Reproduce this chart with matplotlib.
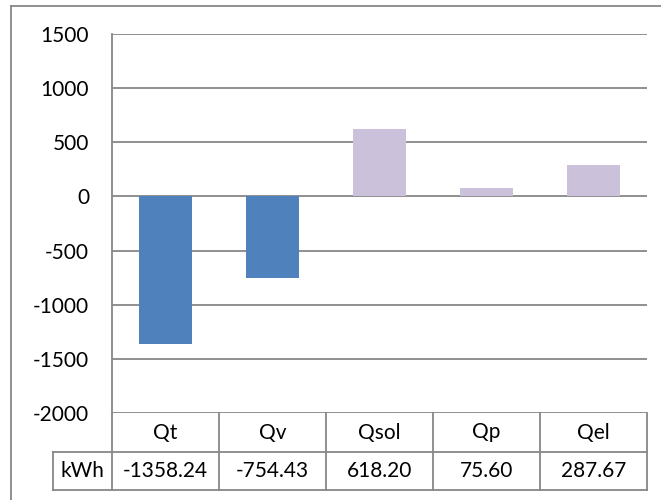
import matplotlib
matplotlib.use("Agg")
import matplotlib.pyplot as plt
from matplotlib.lines import Line2D
import matplotlib.transforms as mtransforms

categories = ["Qt", "Qv", "Qsol", "Qp", "Qel"]
values = [-1358.24, -754.43, 618.20, 75.60, 287.67]
value_labels = ["-1358.24", "-754.43", "618.20", "75.60", "287.67"]
unit_label = "kWh"
yticks = [-2000, -1500, -1000, -500, 0, 500, 1000, 1500]

neg_color = "#4F81BD"
pos_color = "#CCC1DA"
grid_color = "#878787"
font = "Lato"
fs = 15

W, H = 661, 500
fig = plt.figure(figsize=(W / 100, H / 100), dpi=100)
plt.rcParams['font.family'] = [font, 'DejaVu Sans']

L, R, T, B = 112, 647, 34, 413
ax = fig.add_axes([L / W, 1 - B / H, (R - L) / W, (B - T) / H])

colors = [neg_color if v < 0 else pos_color for v in values]
x = list(range(len(categories)))
ax.bar(x, values, width=0.5, color=colors, zorder=3)
ax.set_xlim(-0.5, len(categories) - 0.5)
ax.set_ylim(yticks[0], yticks[-1])
ax.set_yticks(yticks)
ax.set_yticklabels([str(t) for t in yticks], fontsize=fs)
ax.tick_params(axis='y', length=0, pad=16.5)
ax.set_xticks([])
for t in yticks:
    ax.axhline(t, color=grid_color, lw=1.3, zorder=1)
for s in ["top", "right", "bottom"]:
    ax.spines[s].set_visible(False)
ax.spines["left"].set_color(grid_color)
ax.spines["left"].set_linewidth(1.3)

# data table below axes
trans = mtransforms.blended_transform_factory(ax.transData, ax.transAxes)
ah = B - T
y0 = 0.0
y1 = -(452 - B) / ah
y2 = -(490 - B) / ah
xl = -0.5 - (L - 53) / 107
xr = len(categories) - 0.5
lk = dict(color=grid_color, lw=1.3, transform=trans, clip_on=False)
ax.add_line(Line2D([-0.5, -0.5], [y0, y2], **lk))
ax.add_line(Line2D([xl, xl], [y1, y2], **lk))
ax.add_line(Line2D([xl, xr], [y1, y1], **lk))
ax.add_line(Line2D([xl, xr], [y2, y2], **lk))
for i in range(len(categories)):
    ax.add_line(Line2D([i + 0.5, i + 0.5], [y0, y2], **lk))
for i, (c, v) in enumerate(zip(categories, value_labels)):
    ax.text(i, (y0 + y1) / 2, c, transform=trans, ha='center', va='center', fontsize=fs)
    ax.text(i, (y1 + y2) / 2, v, transform=trans, ha='center', va='center', fontsize=fs)
ax.text((xl - 0.5) / 2, (y1 + y2) / 2, unit_label, transform=trans, ha='center', va='center', fontsize=fs)

# outer chart frame
fig.add_artist(Line2D([11 / W, 1], [1 - 6 / H, 1 - 6 / H], color=grid_color, lw=1.3, transform=fig.transFigure))
fig.add_artist(Line2D([11 / W, 11 / W], [1 - 6 / H, 0], color=grid_color, lw=1.3, transform=fig.transFigure))

fig.savefig("out.png", dpi=100)
